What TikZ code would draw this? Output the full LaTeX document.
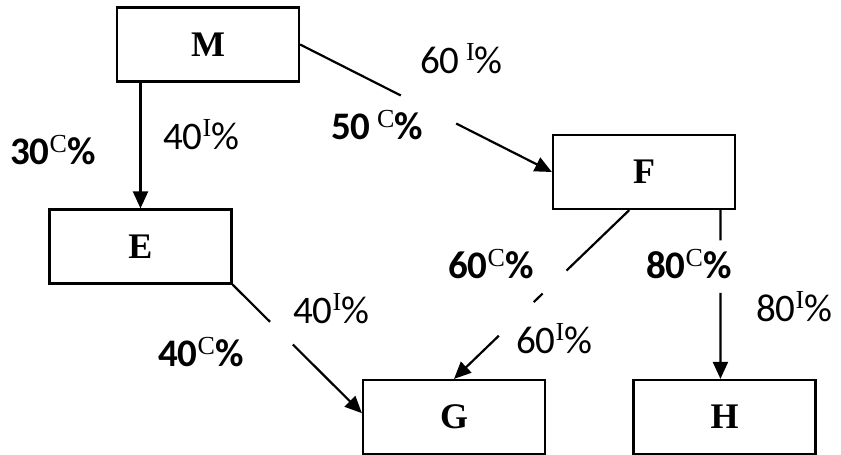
\documentclass[tikz,border=0pt]{standalone}
\usepackage{fontspec}
\setmainfont{Liberation Serif}
\newfontfamily\carl{Carlito}
\usetikzlibrary{arrows.meta,calc}
\newcommand\pctC[1]{{\carl\bfseries #1}\raisebox{12pt}{\fontsize{26}{26}\selectfont C}{\carl\bfseries\%}}
\newcommand\pctI[1]{{\carl #1}\raisebox{13pt}{\fontsize{26}{26}\selectfont I}{\carl\%}}
\tikzset{
  box/.style={draw, line width=2.2pt, minimum width=182pt, minimum height=74pt, inner sep=0pt,
    font=\fontsize{36}{40}\selectfont\bfseries},
  ln/.style={line width=2.2pt},
  arr/.style={line width=2.2pt, -{Triangle[length=17pt,width=15pt]}},
  lbl/.style={inner sep=0pt, anchor=base west, font=\fontsize{39}{42}\selectfont}
}
\begin{document}
\begin{tikzpicture}[x=1pt,y=-1pt]
\useasboundingbox (0,0) rectangle (841,455);
\node[box] (M) at (208,44.5) {M};
\node[box] (E) at (140.5,246.5) {E};
\node[box] (F) at (644,172) {F};
\node[box] (G) at (454,417) {G};
\node[box] (H) at (724.5,417) {H};
% M -> E
\draw[arr] (M.south -| E.north) -- (E.north);
% M -> F
\draw[ln] (M.east) -- ($(M.east)!0.40!(F.west)$);
\draw[arr] ($(M.east)!0.62!(F.west)$) -- (F.west);
% E -> G
\coordinate (gw) at ($(G.north west)!0.45!(G.south west)$);
\draw[ln] (E.south east) -- ($(E.south east)!0.29!(gw)$);
\draw[arr] ($(E.south east)!0.466!(gw)$) -- (gw);
% F -> G
\coordinate (fg) at ($(F.south west)!0.42!(F.south east)$);
\draw[ln] (fg) -- ($(fg)!0.358!(G.north)$);
\draw[ln] ($(fg)!0.494!(G.north)$) -- ($(fg)!0.545!(G.north)$);
\draw[arr] ($(fg)!0.744!(G.north)$) -- (G.north);
% F -> H
\coordinate (fh) at ($(F.south west)!0.915!(F.south east)$);
\coordinate (hf) at (fh |- H.north);
\draw[ln] (fh) -- ($(fh)!0.18!(hf)$);
\draw[arr] ($(fh)!0.49!(hf)$) -- (hf);
% labels
\node[lbl] (l30c) at (10,164) {\pctC{30}};
\node[lbl] (l40i) at (163,149) {\pctI{40}};
\node[lbl] (l50c) at (331,139) {\pctC{50\,}};
\node[lbl] (l60i) at (420,73) {\pctI{60\,}};
\node[lbl] (l40c) at (158,366) {\pctC{40}};
\node[lbl] (l40i2) at (293,323) {\pctI{40}};
\node[lbl] (l60c) at (448,278) {\pctC{60}};
\node[lbl] (l80c) at (646,278) {\pctC{80}};
\node[lbl] (l80i) at (756,321) {\pctI{80}};
\node[lbl] (l60i2) at (516,353) {\pctI{60}};
\end{tikzpicture}
\end{document}
